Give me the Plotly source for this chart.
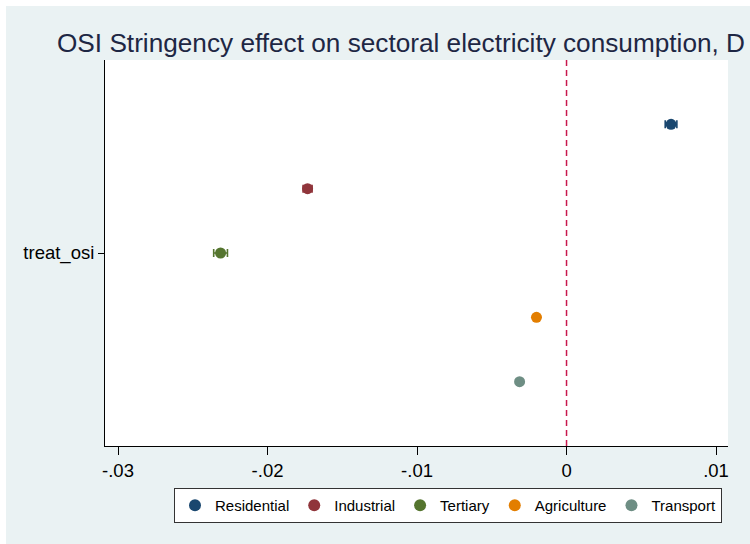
import plotly.graph_objects as go

# Sector estimates of the OSI stringency coefficient with 95% CIs
sectors = ["Residential", "Industrial", "Tertiary", "Agriculture", "Transport"]
coef = [0.00699, -0.01732, -0.02314, -0.00201, -0.00314]
ci_low = [0.00660, -0.01762, -0.02360, -0.00212, -0.00325]
ci_high = [0.00738, -0.01702, -0.02268, -0.00190, -0.00303]
colors = ["#1a476f", "#90353b", "#55752f", "#e37e00", "#6e8e84"]
offsets = [0.4, 0.2, 0.0, -0.2, -0.4]

x_ticks = [-0.03, -0.02, -0.01, 0, 0.01]
x_tick_labels = ["-.03", "-.02", "-.01", "0", ".01"]
y_label = "treat_osi"
title_text = "OSI Stringency effect on sectoral electricity consumption, D"

W, H = 750, 544
L, R, T, B = 105, 22, 60, 98
pw, ph = W - L - R, H - T - B

fig = go.Figure()
for name, c, lo, hi, col, off in zip(sectors, coef, ci_low, ci_high, colors, offsets):
    fig.add_trace(go.Scatter(
        x=[c], y=[off], name=name, mode="markers",
        marker=dict(color=col, size=11, line=dict(width=0)),
        error_x=dict(type="data", symmetric=False, array=[hi - c],
                     arrayminus=[c - lo], color=col, thickness=1.6, width=4),
    ))

# white frame strips around the shaded graph region
fig.add_shape(type="rect", xref="paper", yref="paper", layer="below",
              x0=-L / pw - 0.01, x1=-(L - 6) / pw, y0=-B / ph - 0.01, y1=(ph + T) / ph + 0.01,
              fillcolor="white", line=dict(width=0))
fig.add_shape(type="rect", xref="paper", yref="paper", layer="below",
              x0=-L / pw - 0.01, x1=(pw + R) / pw + 0.01, y0=(ph + T - 6) / ph, y1=(ph + T) / ph + 0.01,
              fillcolor="white", line=dict(width=0))
# reference line at zero
fig.add_shape(type="line", xref="x", yref="paper", x0=0, x1=0, y0=0, y1=1,
              line=dict(color="#c8174d", width=1.5, dash="6px,4px"))

fig.update_layout(
    width=W, height=H,
    margin=dict(l=L, r=R, t=T, b=B, pad=0),
    paper_bgcolor="#eaf2f3", plot_bgcolor="white",
    font=dict(family="Liberation Sans, Arial, sans-serif", color="#000000"),
    title=dict(text=title_text,
               x=57 / W, xref="container", xanchor="left",
               y=1 - 43 / H, yref="container", yanchor="middle",
               font=dict(size=26.2, color="#1e2744")),
    showlegend=True,
    legend=dict(orientation="h", x=(448 - L) / pw, xanchor="center",
                y=-(488 - (T + ph)) / ph, yanchor="top",
                bgcolor="white", bordercolor="#333333", borderwidth=1,
                font=dict(size=15, color="#000000"), itemsizing="constant"),
)
fig.update_xaxes(range=[-0.03087, 0.0108], tickvals=x_ticks, ticktext=x_tick_labels,
                 showgrid=False, zeroline=False, showline=True, linecolor="black",
                 linewidth=1, ticks="outside", ticklen=8, tickcolor="black",
                 tickfont=dict(size=18.5))
fig.update_yaxes(range=[-0.6, 0.6], tickvals=[0], ticktext=[y_label],
                 showgrid=False, zeroline=False, showline=True, linecolor="black",
                 linewidth=1, ticks="outside", ticklen=6, tickcolor="black",
                 tickfont=dict(size=18.5))

fig.write_html("out.html")
